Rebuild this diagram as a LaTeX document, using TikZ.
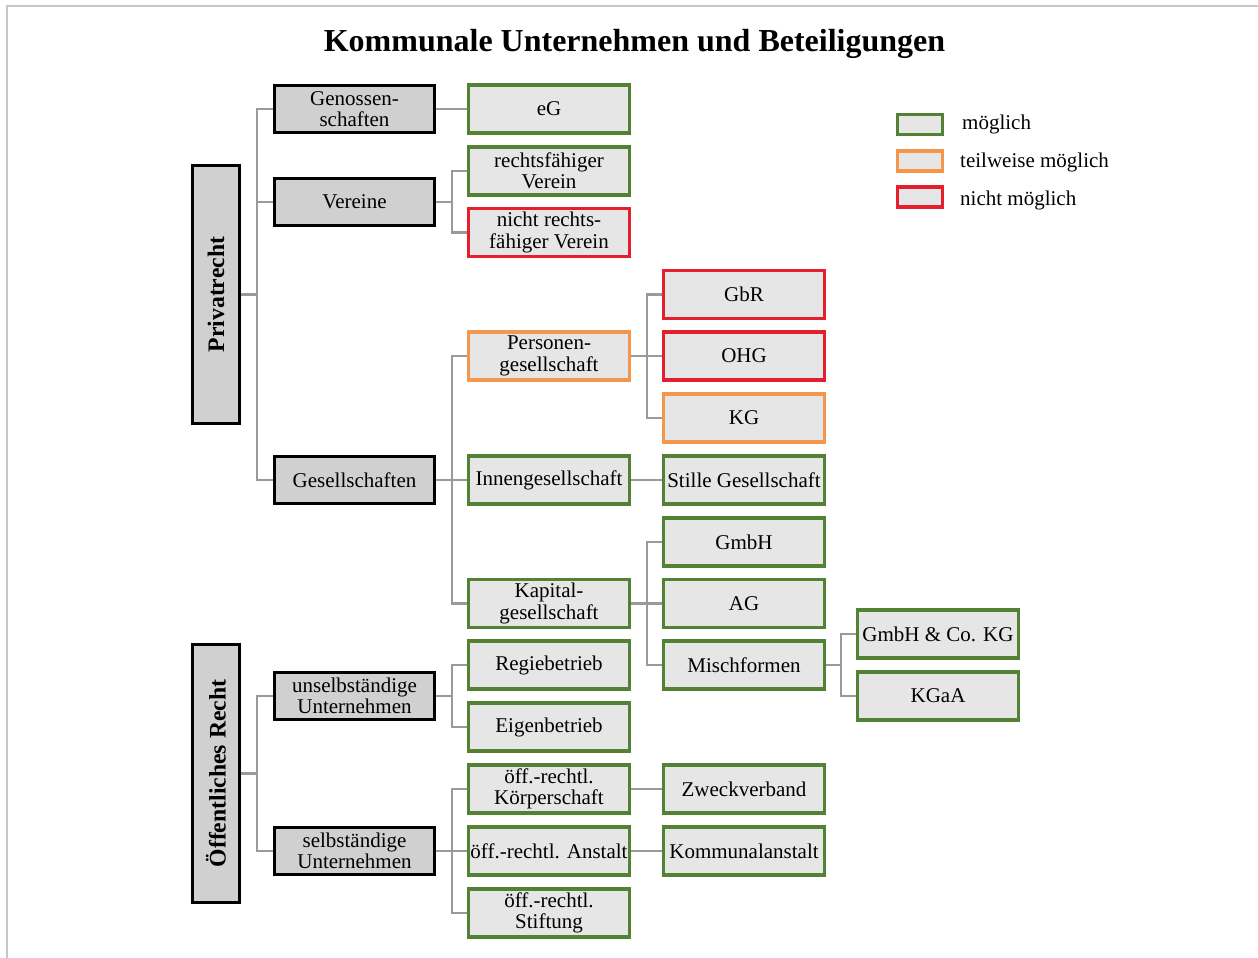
\documentclass[tikz,border=0pt]{standalone}
\usepackage{fontspec}
\usepackage{graphicx}
\setmainfont{Liberation Serif}
\usetikzlibrary{backgrounds}
\definecolor{okgreen}{HTML}{548235}
\definecolor{partorange}{HTML}{F4964C}
\definecolor{nored}{HTML}{E51F2D}
\definecolor{boxfill}{HTML}{E6E6E6}
\definecolor{catfill}{HTML}{D0D0D0}
\definecolor{conngray}{HTML}{9A9A9A}
\tikzset{
  base/.style={rectangle, inner sep=0pt, align=center, font=\fontsize{21}{21.5}\selectfont},
  cat/.style={base, draw=black, line width=2.6pt, fill=catfill, minimum width=160pt, minimum height=47pt},
  root/.style={base, draw=black, line width=2.6pt, fill=catfill, minimum width=47pt, minimum height=258pt,
     font=\fontsize{23.7}{24}\selectfont\bfseries},
  leaf/.style={base, line width=3.3pt, fill=boxfill, minimum width=161pt, minimum height=48pt},
  ok/.style={leaf, draw=okgreen},
  part/.style={leaf, draw=partorange},
  nope/.style={leaf, draw=nored},
  conn/.style={draw=conngray, line width=2.5pt},
  legbox/.style={rectangle, line width=3.3pt, fill=boxfill, minimum width=45pt, minimum height=20pt, inner sep=0pt},
  legtxt/.style={anchor=west, inner sep=0pt, font=\fontsize{21}{21.5}\selectfont}
}
\begin{document}
\begin{tikzpicture}[x=1pt,y=-1pt]
\useasboundingbox (0,0) rectangle (1258,958);
\draw[gray!45, line width=2pt] (1258,6) -- (7,6) -- (7,958);
\node[font=\fontsize{32}{34}\selectfont\bfseries] (title) at (634.5,44) {Kommunale Unternehmen und Beteiligungen};

% roots
\node[root] (priv) at (216,294.5) {\rotatebox{90}{Privatrecht}};
\node[root] (oeff) at (216,773.5) {\rotatebox{90}{Öffentliches Recht}};

% level 1
\node[cat] (gen) at (354.5,109) {Genossen-\\schaften};
\node[cat] (ver) at (354.5,202) {Vereine};
\node[cat] (ges) at (354.5,480) {Gesellschaften};
\node[cat] (unsel) at (354.5,696) {unselbständige\\Unternehmen};
\node[cat] (sel) at (354.5,851) {selbständige\\Unternehmen};

% level 2
\node[ok] (eg) at (549,109) {eG};
\node[ok] (rver) at (549,171) {rechtsfähiger\\Verein};
\node[nope] (nrver) at (549,232.5) {nicht rechts-\\fähiger Verein};
\node[part] (pers) at (549,356) {Personen-\\gesellschaft};
\node[ok] (innen) at (549,480) {Innengesellschaft};
\node[ok] (kap) at (549,603.5) {Kapital-\\gesellschaft};
\node[ok] (regie) at (549,665) {Regiebetrieb};
\node[ok] (eigen) at (549,727) {Eigenbetrieb};
\node[ok] (koerp) at (549,789) {öff.-rechtl.\\Körperschaft};
\node[ok] (anst) at (549,851) {öff.-rechtl. Anstalt};
\node[ok] (stift) at (549,913) {öff.-rechtl.\\Stiftung};

% level 3
\node[nope] (gbr) at (744,294.5) {GbR};
\node[nope] (ohg) at (744,356) {OHG};
\node[part] (kg) at (744,418) {KG};
\node[ok] (still) at (744,480) {Stille Gesellschaft};
\node[ok] (gmbh) at (744,542) {GmbH};
\node[ok] (ag) at (744,603.5) {AG};
\node[ok] (misch) at (744,665) {Mischformen};
\node[ok] (zweck) at (744,789) {Zweckverband};
\node[ok] (komm) at (744,851) {Kommunalanstalt};

% level 4
\node[ok] (gmbhco) at (938,634) {GmbH \& Co. KG};
\node[ok] (kgaa) at (938,696) {KGaA};

% legend
\node[legbox, draw=okgreen] (l1) at (920,124.5) {};
\node[legbox, draw=partorange] (l2) at (920,161) {};
\node[legbox, draw=nored] (l3) at (920,197) {};
\node[legtxt] (t1) at (962,124) {möglich};
\node[legtxt] (t2) at (960,162) {teilweise möglich};
\node[legtxt] (t3) at (960,200) {nicht möglich};

% branch points
\coordinate (bpPriv) at (257,294.5);
\coordinate (bpOeff) at (257,773.5);
\coordinate (bpVer) at (452,202);
\coordinate (bpGes) at (452,480);
\coordinate (bpUns) at (452,696);
\coordinate (bpSel) at (452,851);
\coordinate (bpPers) at (647,356);
\coordinate (bpKap) at (647,603.5);
\coordinate (bpMisch) at (841,665);

\begin{pgfonlayer}{background}
\draw[conn] (priv.east) -- (bpPriv) |- (gen.west);
\draw[conn] (bpPriv) |- (ver.west);
\draw[conn] (bpPriv) |- (ges.west);
\draw[conn] (oeff.east) -- (bpOeff) |- (unsel.west);
\draw[conn] (bpOeff) |- (sel.west);

\draw[conn] (gen.east) -- (eg.west);
\draw[conn] (ver.east) -- (bpVer) |- (rver.west);
\draw[conn] (bpVer) |- (nrver.west);
\draw[conn] (ges.east) -- (bpGes) |- (pers.west);
\draw[conn] (bpGes) -- (innen.west);
\draw[conn] (bpGes) |- (kap.west);
\draw[conn] (unsel.east) -- (bpUns) |- (regie.west);
\draw[conn] (bpUns) |- (eigen.west);
\draw[conn] (sel.east) -- (bpSel) |- (koerp.west);
\draw[conn] (bpSel) -- (anst.west);
\draw[conn] (bpSel) |- (stift.west);

\draw[conn] (pers.east) -- (bpPers) |- (gbr.west);
\draw[conn] (bpPers) -- (ohg.west);
\draw[conn] (bpPers) |- (kg.west);
\draw[conn] (innen.east) -- (still.west);
\draw[conn] (kap.east) -- (bpKap) |- (gmbh.west);
\draw[conn] (bpKap) -- (ag.west);
\draw[conn] (bpKap) |- (misch.west);
\draw[conn] (koerp.east) -- (zweck.west);
\draw[conn] (anst.east) -- (komm.west);

\draw[conn] (misch.east) -- (bpMisch) |- (gmbhco.west);
\draw[conn] (bpMisch) |- (kgaa.west);
\end{pgfonlayer}
\end{tikzpicture}
\end{document}
